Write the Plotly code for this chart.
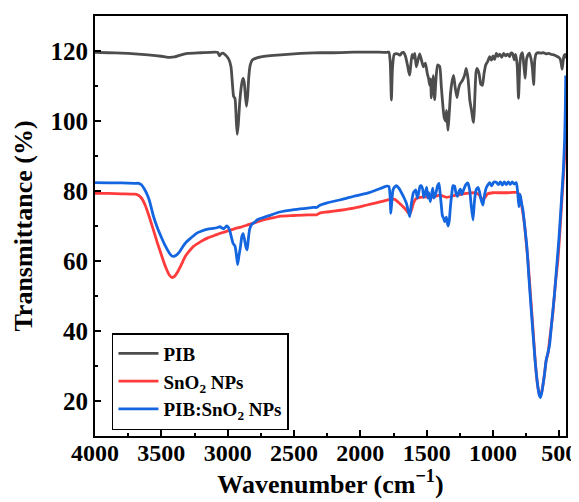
import plotly.graph_objects as go

# ---------------- data ----------------
pib_wn = [4000, 3900, 3800, 3700, 3600, 3500, 3450, 3400, 3350, 3300, 3200, 3100, 3075, 3062, 3050, 3035,
          3010, 2990, 2975, 2965, 2955, 2945, 2935, 2928, 2920, 2910, 2900, 2890, 2883, 2875, 2866, 2858,
          2850, 2840, 2830, 2815, 2790, 2750, 2700, 2600, 2500, 2400, 2300, 2200, 2100, 2000, 1900, 1800,
          1785, 1775, 1766, 1758, 1745, 1720, 1700, 1690, 1675, 1660, 1645, 1635, 1628, 1620, 1610, 1600,
          1590, 1578, 1565, 1553, 1540, 1525, 1510, 1495, 1485, 1477, 1470, 1465, 1458, 1450, 1440, 1430,
          1418, 1402, 1390, 1377, 1368, 1357, 1350, 1340, 1332, 1320, 1310, 1297, 1285, 1272, 1261, 1250,
          1232, 1215, 1202, 1188, 1175, 1162, 1150, 1146, 1138, 1128, 1120, 1105, 1092, 1080, 1068, 1055,
          1040, 1025, 1012, 1000, 988, 975, 962, 950, 935, 920, 905, 890, 875, 865, 852, 840,
          830, 818, 808, 798, 788, 778, 768, 758, 748, 738, 727, 715, 703, 694, 685, 675,
          660, 640, 620, 600, 580, 560, 540, 520, 505, 495, 485, 479, 472, 465, 458, 452]
pib_t = [119.6, 119.5, 119.4, 119.2, 118.9, 118.5, 118.2, 118.3, 118.9, 119.3, 119.5, 119.7, 119.6, 118.6, 119.2, 119.4,
         118.6, 117.5, 115.5, 111.0, 107.0, 106.5, 100.0, 96.2, 99.0, 105.0, 109.0, 111.5, 112.2, 111.0, 107.0, 104.2,
         107.0, 113.0, 116.0, 117.4, 117.9, 118.3, 118.6, 118.9, 119.2, 119.4, 119.5, 119.5, 119.6, 119.7, 119.7, 119.6,
         119.7, 117.0, 106.0, 115.0, 119.0, 119.2, 118.8, 119.4, 119.6, 118.5, 116.0, 114.0, 113.1, 116.0, 119.0, 118.0,
         119.3, 115.5, 117.5, 119.2, 117.5, 115.5, 116.5, 113.5, 112.0, 110.2, 112.0, 106.6, 110.0, 113.0, 106.1, 112.0,
         116.0, 115.6, 110.0, 103.9, 101.0, 100.0, 103.0, 97.3, 101.0, 108.0, 111.0, 113.0, 109.5, 106.7, 109.0, 110.5,
         111.5, 113.0, 115.0, 112.0, 106.0, 103.0, 100.0, 99.6, 106.0, 114.0, 115.0, 113.5, 110.5, 110.2, 113.5, 116.0,
         117.0, 118.4, 117.4, 118.6, 117.6, 119.3, 118.5, 119.1, 118.2, 119.3, 118.6, 119.1, 118.4, 119.4, 119.2, 117.5,
         119.0, 116.0, 106.5, 116.0, 119.0, 119.5, 116.0, 112.2, 117.5, 118.8, 119.4, 118.0, 115.0, 110.4, 117.5, 119.2,
         119.5, 119.4, 119.5, 119.2, 119.3, 119.0, 118.9, 118.5, 118.2, 117.8, 116.2, 114.8, 117.0, 118.8, 118.2, 119.4]

sno2_wn = [4000, 3900, 3800, 3700, 3680, 3650, 3620, 3590, 3560, 3530, 3500, 3470, 3440, 3420, 3400, 3380,
           3350, 3320, 3290, 3260, 3200, 3150, 3100, 3050, 3000, 2950, 2900, 2850, 2800, 2750, 2700, 2650,
           2600, 2500, 2400, 2330, 2306, 2250, 2150, 2050, 1950, 1880, 1800, 1760, 1740, 1720, 1700, 1680,
           1660, 1640, 1628, 1615, 1600, 1580, 1550, 1500, 1450, 1400, 1350, 1300, 1250, 1200, 1150, 1110,
           1090, 1076, 1060, 1040, 1000, 950, 900, 850, 820, 800, 785, 770, 760, 748, 737, 720,
           700, 685, 674, 660, 650, 642, 632, 620, 611, 600, 586, 570, 549, 530, 511, 495,
           478, 465, 455, 452]
sno2_t = [79.3, 79.3, 79.2, 79.1, 78.9, 78.0, 75.8, 72.5, 68.9, 65.2, 61.8, 58.5, 56.0, 55.3, 55.6, 56.7,
          58.9, 61.3, 62.8, 64.1, 65.6, 66.6, 67.3, 68.0, 68.6, 69.2, 69.7, 70.3, 70.9, 71.5, 72.0, 72.4,
          72.8, 73.0, 73.2, 73.2, 73.7, 74.0, 74.5, 75.1, 76.0, 76.6, 77.4, 77.7, 77.6, 77.0, 76.3, 75.6,
          74.8, 73.8, 73.5, 74.5, 76.5, 77.8, 78.2, 78.3, 78.3, 78.8, 78.2, 78.6, 79.0, 79.3, 79.5, 79.1,
          78.0, 77.5, 78.2, 79.2, 79.5, 79.5, 79.5, 79.6, 79.6, 78.8, 76.0, 72.5, 69.5, 64.5, 60.3, 51.5,
          41.2, 33.0, 27.9, 23.5, 22.0, 21.7, 22.8, 25.5, 28.0, 31.5, 33.6, 38.5, 45.1, 53.5, 60.3, 69.0,
          79.3, 87.0, 93.0, 96.0]

comp_wn = [4000, 3900, 3800, 3700, 3670, 3650, 3630, 3611, 3590, 3561, 3530, 3500, 3470, 3440, 3420, 3400,
           3380, 3360, 3340, 3310, 3280, 3235, 3200, 3150, 3109, 3080, 3059, 3045, 3030, 3008, 2995, 2984,
           2970, 2959, 2945, 2935, 2925, 2915, 2904, 2893, 2884, 2875, 2862, 2853, 2845, 2835, 2820, 2800,
           2770, 2700, 2607, 2500, 2400, 2356, 2330, 2306, 2250, 2150, 2105, 2050, 1954, 1900, 1850, 1803,
           1785, 1775, 1771, 1765, 1754, 1740, 1729, 1710, 1690, 1670, 1653, 1640, 1628, 1615, 1600, 1583,
           1570, 1560, 1550, 1540, 1530, 1522, 1510, 1500, 1492, 1485, 1473, 1465, 1455, 1445, 1430, 1418,
           1407, 1398, 1390, 1382, 1372, 1364, 1352, 1345, 1339, 1330, 1320, 1310, 1302, 1290, 1280, 1268,
           1255, 1245, 1235, 1220, 1205, 1189, 1175, 1165, 1151, 1140, 1128, 1113, 1100, 1090, 1076, 1066,
           1050, 1026, 1010, 995, 976, 960, 945, 930, 915, 900, 885, 870, 855, 840, 825, 815,
           805, 795, 785, 775, 760, 745, 730, 712, 695, 685, 674, 660, 650, 642, 632, 620,
           611, 599, 586, 574, 555, 536, 520, 504, 490, 478, 470, 460, 455, 452]
comp_t = [82.4, 82.3, 82.3, 82.2, 82.2, 81.8, 80.7, 79.3, 77.3, 73.0, 69.5, 66.8, 64.3, 62.3, 61.4, 61.4,
          61.9, 62.8, 64.0, 65.5, 66.5, 67.9, 68.5, 69.1, 69.3, 69.5, 69.8, 69.5, 69.2, 70.0, 69.6, 68.6,
          66.5, 65.0, 64.3, 62.0, 59.0, 61.5, 64.0, 67.0, 67.8, 66.5, 64.0, 63.2, 66.0, 69.0, 70.4, 71.0,
          71.9, 72.8, 74.0, 74.7, 75.1, 75.3, 75.3, 75.9, 76.6, 77.5, 77.9, 78.5, 79.3, 80.0, 80.7, 81.4,
          81.3, 78.0, 73.6, 76.0, 80.3, 81.2, 81.5, 80.8, 79.5, 78.0, 76.5, 74.5, 72.7, 76.5, 79.5, 80.3,
          78.0, 79.5, 81.4, 81.5, 80.5, 78.2, 79.5, 81.0, 78.0, 79.5, 77.0, 78.5, 80.8, 78.0, 79.5, 81.5,
          82.2, 79.0, 76.0, 73.0, 72.2, 71.2, 72.5, 71.0, 70.0, 71.5, 76.0, 79.5, 81.5, 81.4, 79.5, 78.5,
          80.0, 80.5, 79.0, 80.5, 81.8, 82.3, 80.0, 76.0, 71.7, 77.0, 80.3, 81.0, 79.5, 77.5, 76.0, 78.5,
          81.0, 82.4, 81.5, 82.5, 82.5, 81.8, 82.6, 81.7, 82.6, 81.8, 82.6, 81.9, 82.6, 82.0, 82.4, 80.0,
          75.5, 79.0, 76.5, 74.6, 69.5, 64.1, 55.5, 46.0, 37.5, 32.5, 27.9, 23.5, 21.5, 21.0, 22.5, 25.5,
          28.0, 31.7, 33.8, 36.0, 43.5, 50.8, 58.5, 66.0, 74.0, 81.2, 86.0, 95.0, 104.0, 113.0]

series_names = ["PIB", "SnO<sub>2</sub> NPs", "PIB:SnO<sub>2</sub> NPs"]
series_colors = ["#4d4d4d", "#ff3b3b", "#1466e0"]
x_ticks = [4000, 3500, 3000, 2500, 2000, 1500, 1000, 500]
y_ticks = [20, 40, 60, 80, 100, 120]

FONT = "Liberation Serif, Times New Roman, serif"

fig = go.Figure()
for wn, t, name, col in zip([pib_wn, sno2_wn, comp_wn], [pib_t, sno2_t, comp_t], series_names, series_colors):
    fig.add_trace(go.Scatter(x=wn, y=t, mode="lines", name=name,
                             line=dict(color=col, width=2.8, shape="spline", smoothing=0.5)))

axis_common = dict(showgrid=False, zeroline=False, showline=True, linecolor="black", linewidth=2,
                   mirror=True, ticks="inside", ticklen=6, tickwidth=2, tickcolor="black",
                   automargin=False)

fig.update_xaxes(range=[4000, 450], tickvals=x_ticks, ticktext=[str(v) for v in x_ticks],
                 ticklabelstandoff=-6,
                 tickfont=dict(family=FONT, size=24, color="black", weight="bold"),
                 minor=dict(dtick=250, tick0=0, ticks="inside", ticklen=3, tickwidth=2, tickcolor="black"),
                 title=dict(text="Wavenumber (cm<sup>\u22121</sup>)", standoff=0,
                            font=dict(family=FONT, size=26, color="black", weight="bold")),
                 **axis_common)
fig.update_yaxes(range=[10, 130], tickvals=y_ticks, ticktext=[str(v) for v in y_ticks],
                 tickfont=dict(family=FONT, size=25, color="black", weight="bold"),
                 minor=dict(dtick=10, tick0=0, ticks="inside", ticklen=3, tickwidth=2, tickcolor="black"),
                 title=dict(text="Transmittance (%)", standoff=10,
                            font=dict(family=FONT, size=26, color="black", weight="bold")),
                 **axis_common)

# the page body adds an 8 px offset, so margins are set 8 px smaller on the left/top
fig.update_layout(
    width=579, height=502,
    margin=dict(l=87, r=21, t=8, b=74),
    plot_bgcolor="white", paper_bgcolor="white",
    showlegend=True,
    legend=dict(x=0.036, y=0.245, xanchor="left", yanchor="top",
                bgcolor="rgba(255,255,255,0)", bordercolor="black", borderwidth=1.5,
                font=dict(family=FONT, size=19, color="black", weight="bold"),
                tracegroupgap=0, itemwidth=40),
)

fig.write_html("out.html")
